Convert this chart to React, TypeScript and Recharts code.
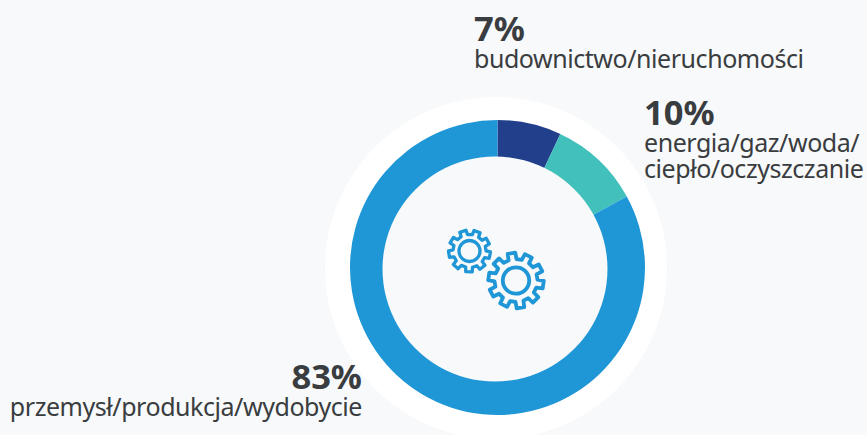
import { PieChart, Pie, Cell } from 'recharts';

const sectors = ['budownictwo/nieruchomości', 'energia/gaz/woda/ ciepło/oczyszczanie', 'przemysł/produkcja/wydobycie'];
const shares = [7, 10, 83];
const colors = ['#223f8b', '#42c0bb', '#1f96d6'];
const whole = [100];

const table = sectors.map((name, i) => ({ name, value: shares[i] }));
const wholeTable = whole.map((value) => ({ value }));

const FONT = '"Noto Sans", "Open Sans", sans-serif';
const DARK = '#3a3d40';
const BG = '#f7f9fb';

// outline of a gear, used for the icon in the middle of the ring
function gearPath(cx: number, cy: number, rOut: number, rIn: number, teeth: number, rot = 0) {
  const step = (Math.PI * 2) / teeth;
  const pts: string[] = [];
  for (let i = 0; i < teeth; i++) {
    const a = rot + i * step;
    const at = (r: number, f: number) => {
      const t = a + f * step;
      return `${(cx + r * Math.cos(t)).toFixed(2)} ${(cy + r * Math.sin(t)).toFixed(2)}`;
    };
    pts.push(at(rIn, -0.3), at(rOut, -0.22), at(rOut, 0.22), at(rIn, 0.3));
  }
  return `M${pts.join('L')}Z`;
}

function Gears() {
  return (
    <svg width={867} height={435} style={{ position: 'absolute', left: 0, top: 0 }}>
      <g fill="none" stroke="#1f96d6" strokeLinejoin="round">
        <path d={gearPath(469.5, 251, 21, 16.5, 9, 0.2)} strokeWidth={3.3} />
        <circle cx={469.5} cy={251} r={10.5} strokeWidth={3.3} />
        <path d={gearPath(516, 280.5, 27.8, 21.5, 10, 0.15)} strokeWidth={3.8} />
        <circle cx={516} cy={280.5} r={13.2} strokeWidth={3.8} />
      </g>
    </svg>
  );
}

function Note({ pct, lines, left, right, top }: { pct: string; lines: string[]; left?: number; right?: number; top: number }) {
  return (
    <div
      style={{
        position: 'absolute',
        left,
        right,
        top,
        fontFamily: FONT,
        color: DARK,
        textAlign: right !== undefined ? 'right' : 'left',
        whiteSpace: 'nowrap',
      }}
    >
      <div style={{ fontSize: 34.5, fontWeight: 700, lineHeight: '36px' }}>{pct}</div>
      {lines.map((l) => (
        <div key={l} style={{ fontSize: 25, letterSpacing: -0.45, lineHeight: '25.5px' }}>
          {l}
        </div>
      ))}
    </div>
  );
}

export default function App() {
  return (
    <div style={{ position: 'absolute', left: 0, top: 0, width: 867, height: 435, overflow: 'hidden', background: BG }}>
      <PieChart width={867} height={435} margin={{ top: 0, right: 0, bottom: 0, left: 0 }}>
        <Pie
          data={wholeTable}
          dataKey="value"
          cx={496}
          cy={268}
          innerRadius={130}
          outerRadius={171}
          fill="#ffffff"
          stroke="none"
          isAnimationActive={false}
        />
        <Pie
          data={table}
          dataKey="value"
          nameKey="name"
          cx={497.5}
          cy={267.5}
          innerRadius={100}
          outerRadius={147.5}
          startAngle={90}
          endAngle={-270}
          stroke="none"
          isAnimationActive={false}
        >
          {table.map((d, i) => (
            <Cell key={d.name} fill={colors[i]} />
          ))}
        </Pie>
        {/* the hole sits a little off centre in the original */}
        <Pie
          data={wholeTable}
          dataKey="value"
          cx={495}
          cy={269}
          innerRadius={0}
          outerRadius={112.5}
          fill={BG}
          stroke="none"
          isAnimationActive={false}
        />
      </PieChart>
      <Gears />
      <Note pct={`${shares[0]}%`} lines={['budownictwo/nieruchomości']} left={474} top={10} />
      <Note pct={`${shares[1]}%`} lines={['energia/gaz/woda/', 'ciepło/oczyszczanie']} left={644} top={94} />
      <Note pct={`${shares[2]}%`} lines={['przemysł/produkcja/wydobycie']} right={505} top={358} />
    </div>
  );
}
